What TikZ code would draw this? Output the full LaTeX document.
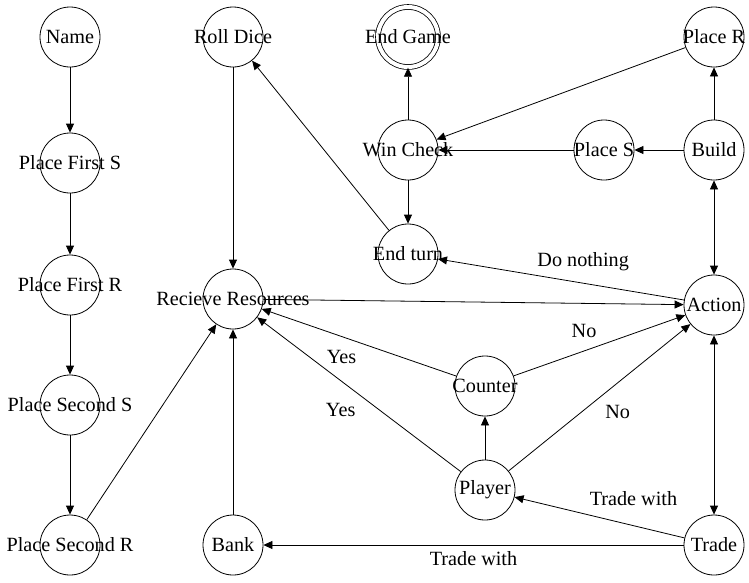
\documentclass[tikz,border=0pt]{standalone}
\usepackage{fontspec}
\setmainfont{Liberation Serif}
\usetikzlibrary{arrows.meta,automata,positioning}

\begin{document}
\begin{tikzpicture}[->,>={Triangle[length=9pt,width=8pt]},x=1pt,y=1pt,line width=0.8pt,
		font=\fontsize{20.2}{23}\selectfont,
		every state/.style={draw,line width=0.8pt,minimum size=60pt,inner sep=0pt,
			execute at begin node={\hbox to 0pt\bgroup\hss},
			execute at end node={\hss\egroup}}]
	\useasboundingbox (0,0) rectangle (749,-582);
	% left column
	\node[state] (name)                                        at (70,-37) {Name};
	\node[state] (pfs)     [node distance=126pt,below of=name]             {Place First S};
	\node[state] (pfr)     [node distance=122pt,below of=pfs]              {Place First R};
	\node[state] (pss)     [node distance=120pt,below of=pfr]              {Place Second S};
	\node[state] (psr)     [node distance=140pt,below of=pss]              {Place Second R};
	% middle
	\node[state] (roll)    [node distance=163pt,right of=name]             {Roll Dice};
	\node[state] (recv)    [node distance=262pt,below of=roll]             {Recieve Resources};
	\node[state] (bank)    [node distance=246pt,below of=recv]             {Bank};
	\node[state,accepting,double distance=4pt] (end) [node distance=175pt,right of=roll] {End Game};
	\node[state] (win)     [node distance=113pt,below of=end]              {Win Check};
	\node[state] (turn)    [node distance=104pt,below of=win]              {End turn};
	% right
	\node[state] (placer)  [node distance=306pt,right of=end]              {Place R};
	\node[state] (build)   [node distance=113pt,below of=placer]           {Build};
	\node[state] (places)  [node distance=110pt,left of=build]             {Place S};
	\node[state] (action)  [node distance=155pt,below of=build]            {Action};
	\node[state] (trade)   [node distance=240pt,below of=action]           {Trade};
	\node[state] (counter)                                     at (485,-386) {Counter};
	\node[state] (player)  [node distance=104pt,below of=counter]          {Player};
	\path
		(name)    edge (pfs)
		(pfs)     edge (pfr)
		(pfr)     edge (pss)
		(pss)     edge (psr)
		(psr)     edge (recv)
		(roll)    edge (recv)
		(bank)    edge (recv)
		(recv)    edge (action)
		(action)  edge node [pos=.41,yshift=22pt]   {Do nothing} (turn)
		(turn)    edge (roll)
		(win)     edge (turn)
		(win)     edge (end)
		(build)   edge (placer)
		(build)   edge (places)
		(places)  edge (win)
		(placer)  edge (win)
		(action)  edge [<->] (build)
		(action)  edge [<->] (trade)
		(counter) edge node [pos=.41,yshift=20pt]   {No} (action)
		(counter) edge node [pos=.59,yshift=-21pt]  {Yes} (recv)
		(player)  edge (counter)
		(player)  edge node [pos=.59,yshift=-29pt]  {Yes} (recv)
		(player)  edge node [pos=.6,yshift=-29pt]   {No} (action)
		(trade)   edge node [pos=.3,yshift=27pt]    {Trade with} (player)
		(trade)   edge node [pos=.5,yshift=-14pt]   {Trade with} (bank);
\end{tikzpicture}
\end{document}
